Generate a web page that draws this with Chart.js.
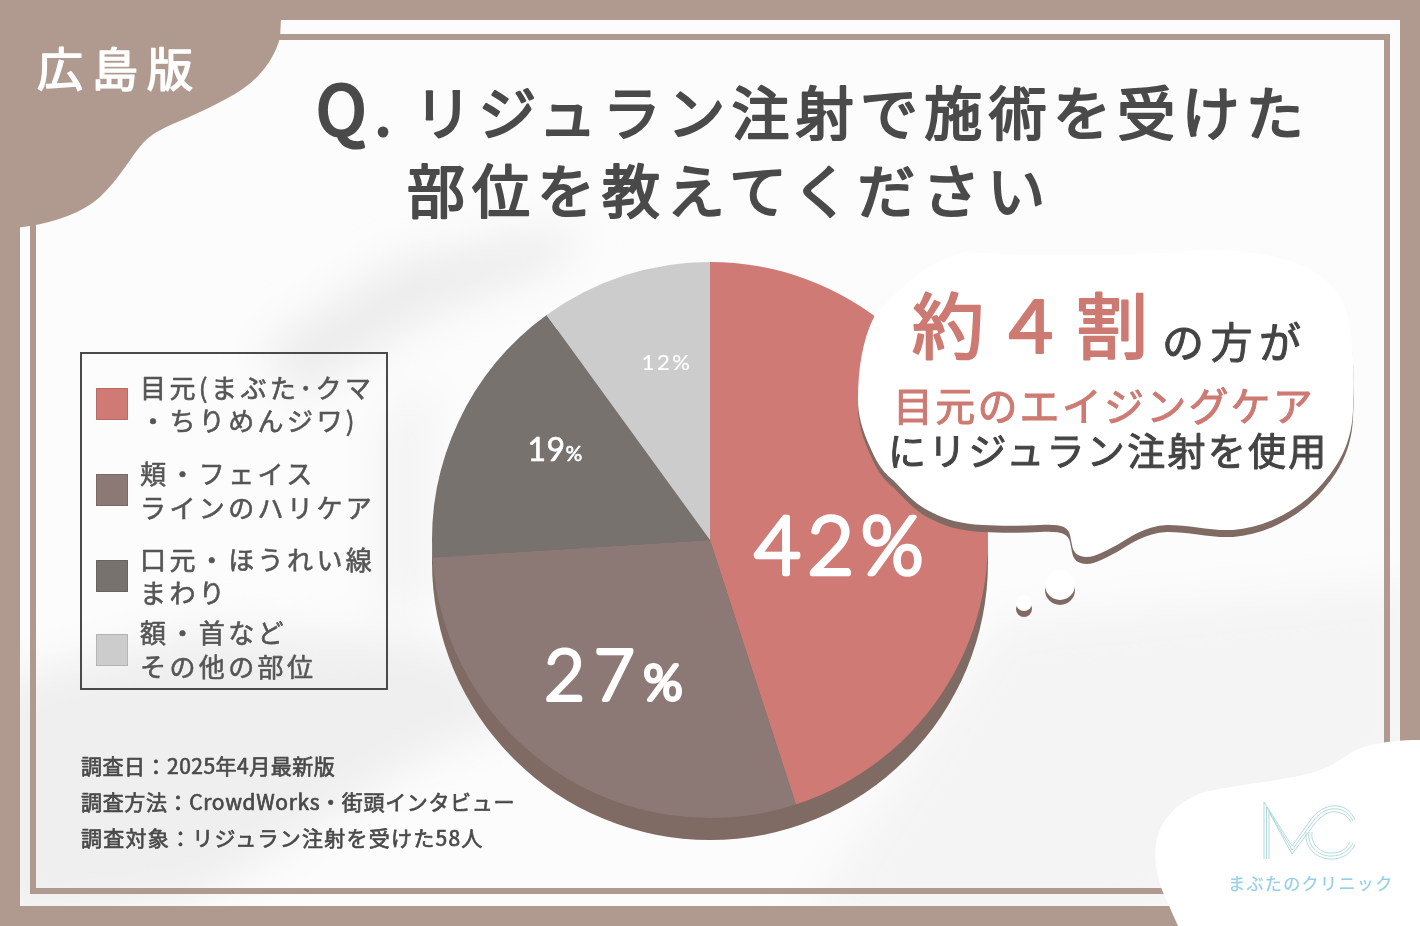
<!DOCTYPE html>
<html lang="ja">
<head>
<meta charset="utf-8">
<title>リジュラン注射で施術を受けた部位</title>
<script src="https://cdn.jsdelivr.net/npm/chart.js@4"></script>
<style>
    html, body { margin: 0; padding: 0; background: #b09a8f; }
    #page { position: relative; width: 1420px; height: 926px; overflow: hidden; font-family: "Noto Sans CJK JP", sans-serif; }
    #page svg, #page canvas { position: absolute; left: 0; top: 0; }
    .legend-box { position: absolute; left: 80px; top: 352px; width: 304px; height: 334px; border: 2px solid #4a4a4a; }
    .swatch { position: absolute; left: 96px; width: 32px; height: 32px; box-sizing: border-box; border: 1px solid rgba(0,0,0,0.12); }
    #texts text { stroke-linejoin: round; stroke-linecap: round; white-space: pre; }
</style>
</head>
<body>
<div id="page">
    <svg width="1420" height="926">
        <defs>
            <filter id="soft" x="-30%" y="-30%" width="160%" height="160%"><feGaussianBlur stdDeviation="22"/></filter>
            <clipPath id="inner"><rect x="20" y="20" width="1380" height="886"/></clipPath>
        </defs>
        <rect width="1420" height="926" fill="#b09a8f"/>
        <rect x="20" y="20" width="1380" height="886" fill="#fcfcfc"/>
        <g clip-path="url(#inner)">
            <g filter="url(#soft)">
                <polygon points="260,350 400,260 580,225 560,265 420,320 300,400" fill="#ececec"/>
                <polygon points="0,680 200,630 420,640 560,700 420,760 200,900 0,926" fill="#efefef"/>
                <polygon points="1000,620 1420,580 1420,760 1150,926 800,926" fill="#f4f4f4"/>
                <polygon points="380,420 430,380 430,600 380,620" fill="#f3f3f3"/>
            </g>
        </g>
        <rect x="33" y="37" width="1354" height="854" fill="none" stroke="#b09a8f" stroke-width="6"/>
        <path d="M0 0 H282 L280 38 C276 52 268 66 258 76 C243 92 218 104 187 118 C165 127 152 133 143 143 C130 158 120 178 100 197 C82 213 55 222 30 226 L0 230 Z" fill="#b09a8f"/>
        <path d="M1420 740 C1400 740 1385 742 1370 745 C1350 750 1340 762 1325 768 C1300 780 1240 783 1205 792 C1180 800 1165 815 1158 835 C1153 850 1155 870 1162 890 L1178 926 H1420 Z" fill="#ffffff"/>
    </svg>
    <canvas id="myChart" width="1420" height="926"></canvas>
    <svg width="1420" height="926">
        <defs>
            <path id="cloud" d="M875 315 C905 285 925 262 965 252 C1020 256 1110 258 1200 250 C1270 250 1320 262 1342 300 C1354 325 1355 375 1353 410 C1352 435 1345 458 1323 483 C1300 510 1265 528 1233 530 C1210 531 1190 525 1167 525 C1145 526 1130 537 1117 545 C1105 551 1095 557 1087 557 C1077 557 1073 552 1072 545 L1070 535 C1068 526 1060 524 1040 525 C1020 526 1000 526 983 525 C960 524 945 519 933 513 C915 505 905 492 893 480 C880 470 875 458 870 447 C862 430 858 415 858 400 C858 370 862 340 875 315 Z"/>
        </defs>
        <use href="#cloud" y="7" fill="#7f6b64"/>
        <use href="#cloud" fill="#ffffff"/>
        <circle cx="1060" cy="590" r="15" fill="#7f6b64"/>
        <circle cx="1060" cy="585" r="15" fill="#ffffff"/>
        <circle cx="1024" cy="609" r="8" fill="#7f6b64"/>
        <circle cx="1024" cy="603" r="8" fill="#ffffff"/>
        <g fill="none" stroke="#a9d6da" stroke-width="0.9">
            <path d="M1264 859 V802 L1292 846 L1312 818 C1320 808 1330 805 1338 806 C1346 807 1352 813 1355 820"/>
            <path d="M1266.5 859 V807 L1292 850 L1314 820 C1322 810 1330 808 1338 809 C1345 810 1350 815 1353 821"/>
            <path d="M1269 859 V812 L1292 854 L1316 822 C1324 813 1331 811 1337 812 C1344 813 1348 817 1351 822"/>
            <path d="M1306 832 C1304 850 1320 860 1332 859 C1342 859 1352 853 1355 844"/>
            <path d="M1309 832 C1307 848 1321 857 1332 856 C1341 856 1349 851 1353 843"/>
            <path d="M1312 832 C1310 845 1322 854 1332 853 C1340 853 1347 849 1350 842"/>
        </g>
    </svg>
    <div class="legend-box"></div>
    <div id="legend"></div>
    <svg id="texts" width="1420" height="926"></svg>
</div>

<script>
// valores: sliceValues = tamanho desenhado, percentLabels = texto escrito
const categories = [
    ["目元(まぶた･クマ", "・ちりめんジワ)"],
    ["頬・フェイス", "ラインのハリケア"],
    ["口元・ほうれい線", "まわり"],
    ["額・首など", "その他の部位"],
];
const sliceValues = [45, 29, 16, 10];
const percentLabels = ["42", "27", "19", "12"];
const sliceColors = ["#cf7a75", "#8c7875", "#78726f", "#cccccc"];
const sourceLines = [
    "調査日：2025年4月最新版",
    "調査方法：CrowdWorks・街頭インタビュー",
    "調査対象：リジュラン注射を受けた58人",
];

// estilo dos rótulos: deslocamento a partir do centro da fatia, tamanho do número e do %
const labelStyle = [
    { dx: -5, dy: 27, num: 80, pct: 80, stroke: 4.5, spacing: 7, weight: 300 },
    { dx: -14, dy: 20, num: 70, pct: 50, stroke: 4, spacing: 9, weight: 300 },
    { dx: -29, dy: -31, num: 32, pct: 21, stroke: 0.6, spacing: 0.5, weight: 400 },
    { dx: 0, dy: -46, num: 22, pct: 22, stroke: 0.2, spacing: 2.5, weight: 400 },
];
const legendSwatchTops = [388, 474, 560, 634];
const legendBaselines = [[398, 431], [484, 518], [570, 603], [643, 677]];
const sourceBaselines = [774, 810, 846];
const sourceSpacing = [0.5, 0.65, 1.25];

const svgNS = "http://www.w3.org/2000/svg";
let textLayer = document.getElementById("texts");

function addText(text, x, y, size, color, spacing, stroke) {
    let el = document.createElementNS(svgNS, "text");
    el.setAttribute("x", x);
    el.setAttribute("y", y);
    el.setAttribute("font-size", size);
    el.setAttribute("fill", color);
    el.setAttribute("stroke", color);
    el.setAttribute("stroke-width", stroke);
    el.style.letterSpacing = spacing + "px";
    el.textContent = text;
    textLayer.appendChild(el);
}

addText("広島版", 37, 86, 46, "#ffffff", 9, 1.5);
addText("Q", 316, 135, 68, "#4a4a4a", 0, 3);
addText(".", 375, 135, 58, "#4a4a4a", 0, 3);
addText("リジュラン注射で施術を受けた", 414, 135, 58, "#4a4a4a", 6.3, 2.2);
addText("部位を教えてください", 407, 213, 58, "#4a4a4a", 7, 2.2);
addText("約４割", 912, 353, 72, "#cd7a73", 10, 2.2);
addText("の方が", 1162, 358, 42, "#444444", 6.5, 1);
addText("目元のエイジングケア", 893, 421, 40, "#cd7a73", 2.2, 1);
addText("にリジュラン注射を使用", 888, 465, 38, "#444444", 2.3, 1);
addText("まぶたのクリニック", 1228, 890, 17, "#94cfe8", 1.4, 0.2);

let legendBox = document.getElementById("legend");
categories.forEach((lines, i) => {
    let swatch = document.createElement("div");
    swatch.className = "swatch";
    swatch.style.top = legendSwatchTops[i] + "px";
    swatch.style.background = sliceColors[i];
    legendBox.appendChild(swatch);
    lines.forEach((line, j) => addText(line, 140, legendBaselines[i][j], 26, "#555555", 3.4, 0.6));
});

sourceLines.forEach((line, i) => addText(line, 81, sourceBaselines[i], 21, "#4a4a4a", sourceSpacing[i], 0.7));

// sombra da pizza, desenhada antes das fatias
const pieShadow = {
    id: "pieShadow",
    beforeDatasetsDraw(chart) {
        let arc = chart.getDatasetMeta(0).data[0];
        let ctx = chart.ctx;
        ctx.save();
        ctx.fillStyle = "#7f6b64";
        ctx.beginPath();
        ctx.arc(arc.x, arc.y + 22, arc.outerRadius, 0, Math.PI * 2);
        ctx.fill();
        ctx.restore();
    },
};

const percentText = {
    id: "percentText",
    afterDatasetsDraw(chart) {
        let ctx = chart.ctx;
        chart.getDatasetMeta(0).data.forEach((arc, i) => {
            let pos = arc.tooltipPosition();
            let s = labelStyle[i];
            ctx.save();
            ctx.fillStyle = "#ffffff";
            ctx.strokeStyle = "#ffffff";
            ctx.lineWidth = s.stroke;
            ctx.lineJoin = "round";
            ctx.textBaseline = "alphabetic";
            ctx.textAlign = "left";
            ctx.letterSpacing = s.spacing + "px";
            ctx.font = `${s.weight} ${s.num}px Lato`;
            let numWidth = ctx.measureText(percentLabels[i]).width;
            ctx.font = `${s.weight} ${s.pct}px Lato`;
            let pctWidth = ctx.measureText("%").width;
            let x = pos.x + s.dx - (numWidth + pctWidth) / 2;
            let y = pos.y + s.dy + s.num * 0.36;
            ctx.font = `${s.weight} ${s.num}px Lato`;
            ctx.fillText(percentLabels[i], x, y);
            ctx.strokeText(percentLabels[i], x, y);
            ctx.font = `${s.weight} ${s.pct}px Lato`;
            ctx.fillText("%", x + numWidth, y);
            ctx.strokeText("%", x + numWidth, y);
            ctx.restore();
        });
    },
};

let ctx = document.getElementById("myChart").getContext("2d");

let myChart = new Chart(ctx, {
    type: "pie",
    data: {
        labels: categories.map((lines) => lines.join("")),
        datasets: [
            {
                data: sliceValues,
                backgroundColor: sliceColors,
                borderWidth: 0,
            },
        ],
    },
    options: {
        responsive: false,
        animation: false,
        layout: {
            padding: { left: 432, right: 432, top: 262, bottom: 108 },
        },
        plugins: {
            legend: { display: false },
            tooltip: { enabled: false },
        },
    },
    plugins: [pieShadow, percentText],
});
</script>
</body>
</html>
